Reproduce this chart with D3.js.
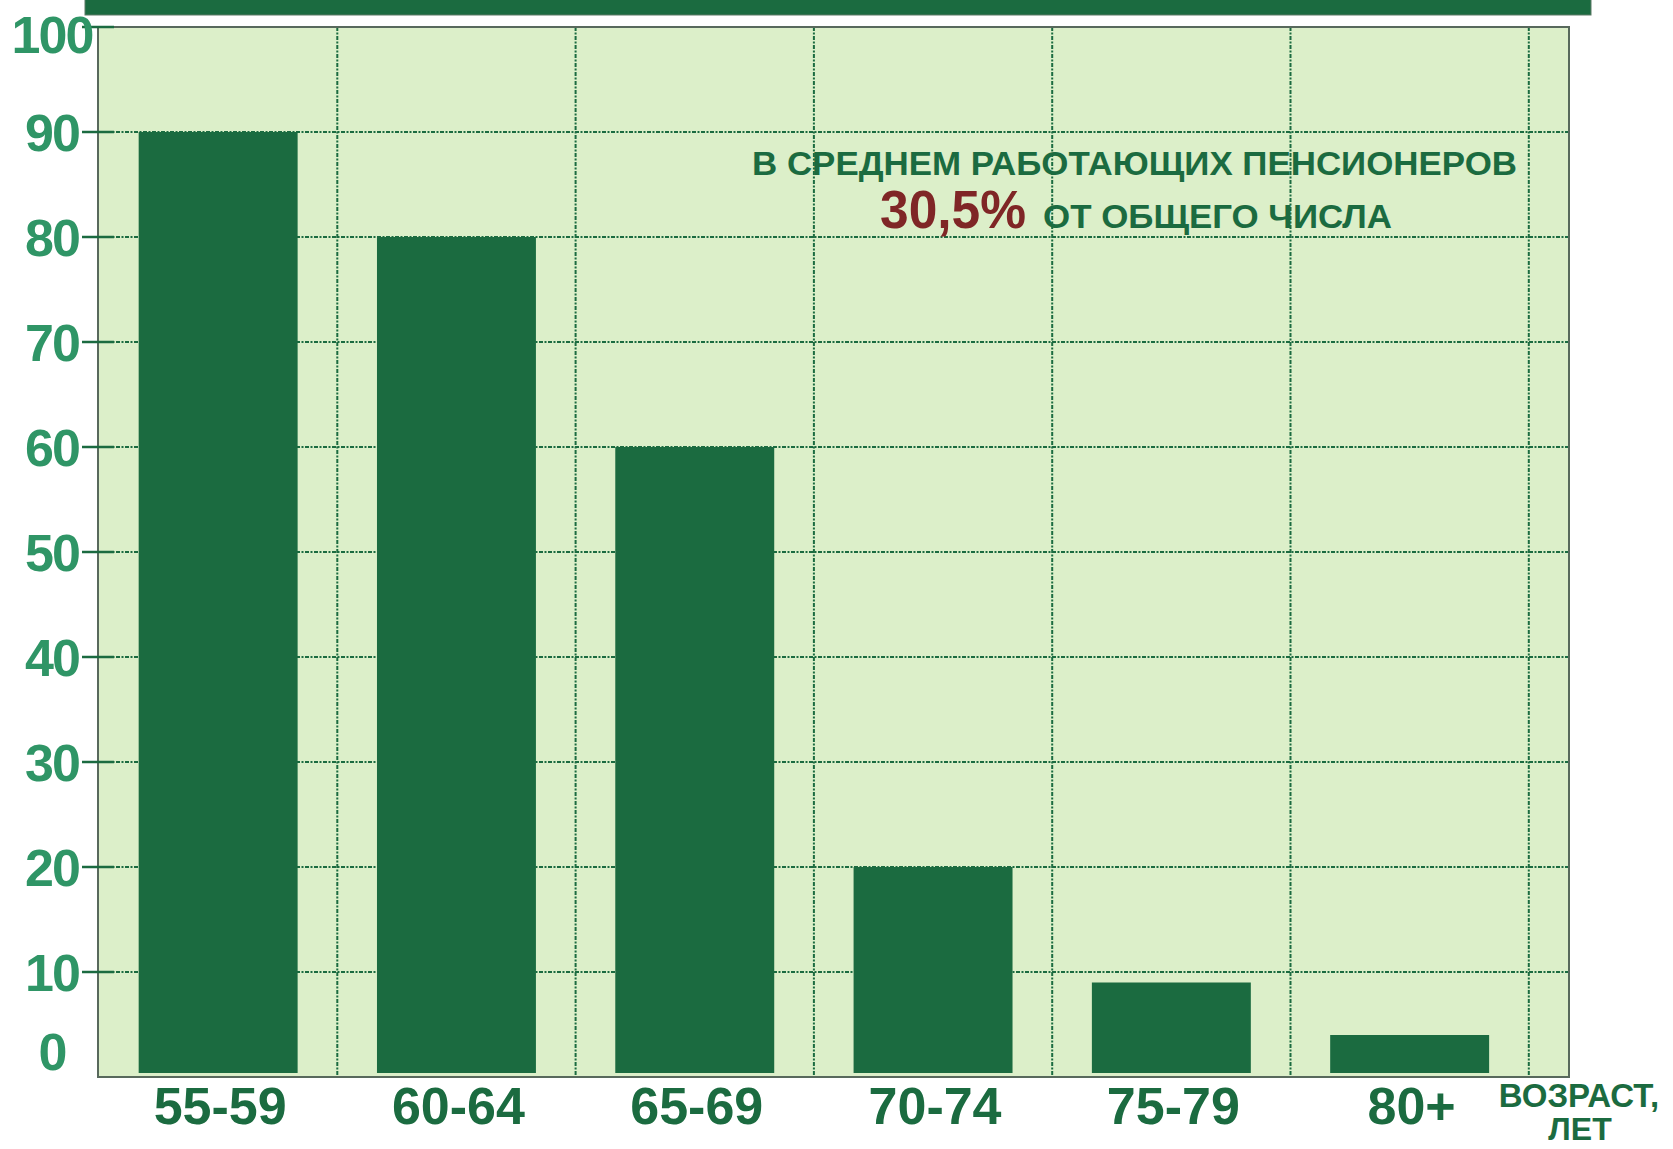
<!DOCTYPE html>
<html>
<head>
<meta charset="utf-8">
<script src="https://cdn.jsdelivr.net/npm/d3@7"></script>
<style>
  body { margin: 0; background: #fff; }
  svg { display: block; font-family: "Liberation Sans", Arial, sans-serif; font-weight: bold; }
</style>
</head>
<body>
<svg id="chart" width="1673" height="1149"></svg>
<script>
// Working pensioners by age group, percent
var ageGroups = ["55-59", "60-64", "65-69", "70-74", "75-79", "80+"];
var shareWorking = [90, 80, 60, 20, 9, 4];
var yTicks = [0, 10, 20, 30, 40, 50, 60, 70, 80, 90, 100];
var noteLine1 = "В СРЕДНЕМ РАБОТАЮЩИХ ПЕНСИОНЕРОВ";
var noteValue = "30,5%";
var noteLine2 = "ОТ ОБЩЕГО ЧИСЛА";
var axisTitle = ["ВОЗРАСТ,", "ЛЕТ"];

var darkGreen = "#1b6b40";
var labelGreen = "#2f9566";

var svg = d3.select("#chart");

// plot box (don't call these top/left - window.top is taken)
var plotLeft = 98, plotRight = 1569, plotTop = 27, plotBottom = 1077;

var x = d3.scaleBand()
    .domain(ageGroups)
    .range([plotLeft + 1, plotLeft + 1 + 6 * 238.3])
    .paddingInner(0.333)
    .paddingOuter(0.1665);

var y = d3.scaleLinear()
    .domain([0, 100])
    .range([plotBottom, plotTop]);

// top banner
svg.append("rect")
    .attr("x", 85).attr("y", -2)
    .attr("width", 1506).attr("height", 17)
    .attr("fill", darkGreen)
    .attr("stroke", "#5d7a66").attr("stroke-width", 1);

// plot background
svg.append("rect")
    .attr("x", plotLeft).attr("y", plotTop)
    .attr("width", plotRight - plotLeft).attr("height", plotBottom - plotTop)
    .attr("fill", "#dcefc9");

// horizontal grid
svg.append("g")
    .selectAll("line")
    .data(yTicks.filter(function(d) { return d > 0 && d < 100; }))
    .join("line")
    .attr("x1", plotLeft).attr("x2", plotRight)
    .attr("y1", function(d) { return y(d); })
    .attr("y2", function(d) { return y(d); })
    .attr("stroke", darkGreen)
    .attr("stroke-width", 2)
    .attr("stroke-dasharray", "4,1.5,2,1.5");

// vertical grid at the right edge of each band
var step = x.step();
function bandEdge(d) { return x(d) + x.bandwidth() + step * 0.1665; }
svg.append("g")
    .selectAll("line")
    .data(ageGroups)
    .join("line")
    .attr("x1", bandEdge)
    .attr("x2", bandEdge)
    .attr("y1", plotTop).attr("y2", plotBottom)
    .attr("stroke", darkGreen)
    .attr("stroke-width", 2)
    .attr("stroke-dasharray", "4,1.5,2,1.5");

// bars
svg.append("g")
    .selectAll("rect")
    .data(shareWorking)
    .join("rect")
    .attr("x", function(d, i) { return x(ageGroups[i]); })
    .attr("width", x.bandwidth())
    .attr("y", function(d) { return y(d); })
    .attr("height", function(d) { return y(0) - y(d) - 4; })
    .attr("fill", darkGreen);

// plot frame
svg.append("rect")
    .attr("x", plotLeft).attr("y", plotTop)
    .attr("width", plotRight - plotLeft).attr("height", plotBottom - plotTop)
    .attr("fill", "none")
    .attr("stroke", "#58695c")
    .attr("stroke-width", 2);

// y tick marks
svg.append("g")
    .selectAll("line")
    .data(yTicks.filter(function(d) { return d > 0; }))
    .join("line")
    .attr("x1", 82).attr("x2", 114)
    .attr("y1", function(d) { return y(d); })
    .attr("y2", function(d) { return y(d); })
    .attr("stroke", darkGreen)
    .attr("stroke-width", 2.5);

// y tick labels
svg.append("g")
    .selectAll("text")
    .data(yTicks)
    .join("text")
    .attr("x", 52)
    .attr("y", function(d) {
        var shift = d === 0 ? -26 : (d === 100 ? 7 : 0);
        return y(d) + shift;
    })
    .attr("dy", "0.36em")
    .attr("text-anchor", "middle")
    .attr("font-size", 52)
    .attr("letter-spacing", -2)
    .attr("fill", labelGreen)
    .text(function(d) { return d; });

// x labels
svg.append("g")
    .selectAll("text")
    .data(ageGroups)
    .join("text")
    .attr("x", function(d) { return x(d) + x.bandwidth() / 2 + 2; })
    .attr("y", 1124)
    .attr("text-anchor", "middle")
    .attr("font-size", 52)
    .attr("fill", darkGreen)
    .text(function(d) { return d; });

// axis title
svg.append("text")
    .attr("x", 1579).attr("y", 1107)
    .attr("text-anchor", "middle")
    .attr("font-size", 33)
    .attr("fill", darkGreen)
    .text(axisTitle[0]);
svg.append("text")
    .attr("x", 1580).attr("y", 1140)
    .attr("text-anchor", "middle")
    .attr("font-size", 32)
    .attr("fill", darkGreen)
    .text(axisTitle[1]);

// note
svg.append("text")
    .attr("x", 752).attr("y", 175)
    .attr("font-size", 33)
    .attr("textLength", 765)
    .attr("lengthAdjust", "spacingAndGlyphs")
    .attr("fill", darkGreen)
    .text(noteLine1);
svg.append("text")
    .attr("x", 880).attr("y", 228)
    .attr("font-size", 53)
    .attr("textLength", 146)
    .attr("lengthAdjust", "spacingAndGlyphs")
    .attr("fill", "#7f2626")
    .text(noteValue);
svg.append("text")
    .attr("x", 1043).attr("y", 228)
    .attr("font-size", 33)
    .attr("textLength", 349)
    .attr("lengthAdjust", "spacingAndGlyphs")
    .attr("fill", darkGreen)
    .text(noteLine2);
</script>
</body>
</html>
